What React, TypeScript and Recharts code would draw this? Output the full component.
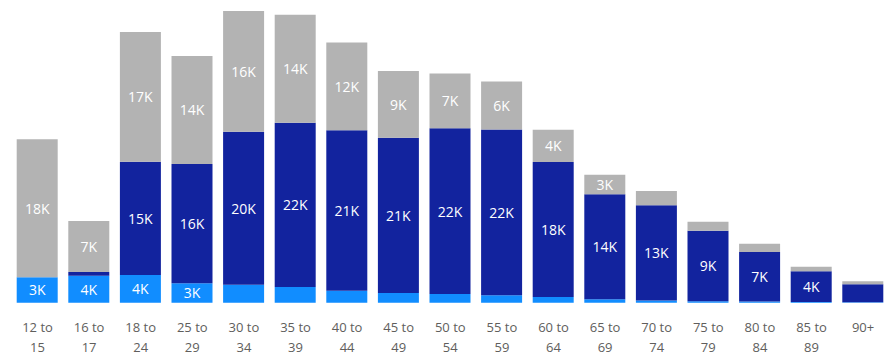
import { BarChart, Bar, XAxis, YAxis, LabelList } from "recharts"

// age groups and the three stacked series, in thousands
const ageGroups = [
  "12 to 15", "16 to 17", "18 to 24", "25 to 29", "30 to 34", "35 to 39",
  "40 to 44", "45 to 49", "50 to 54", "55 to 59", "60 to 64", "65 to 69",
  "70 to 74", "75 to 79", "80 to 84", "85 to 89", "90+",
]
const firstDose = [3.4, 3.6, 3.7, 2.6, 2.4, 2.1, 1.6, 1.3, 1.15, 1.0, 0.75, 0.45, 0.3, 0.2, 0.15, 0.1, 0.05]
const secondDose = [0, 0.5, 15.1, 15.9, 20.4, 21.9, 21.4, 20.7, 22.1, 22.1, 18.0, 14.0, 12.7, 9.4, 6.6, 4.1, 2.4]
const notVaccinated = [18.4, 6.8, 17.3, 14.4, 16.1, 14.4, 11.7, 8.9, 7.3, 6.4, 4.3, 2.6, 1.9, 1.2, 1.1, 0.6, 0.4]

const data = ageGroups.map((group, i) => ({
  group,
  first: firstDose[i],
  second: secondDose[i],
  none: notVaccinated[i],
}))

const FONT = "'Segoe UI', 'Open Sans', sans-serif"

function SegmentLabel(props: any) {
  const { x, y, width, height, value } = props
  if (height < 19 || !value) return null
  return (
    <text
      x={x + width / 2}
      y={y + height / 2}
      textAnchor="middle"
      dominantBaseline="central"
      fill="#ffffff"
      fontSize={14}
      fontFamily={FONT}
    >
      {Math.round(value)}K
    </text>
  )
}

function AgeTick(props: any) {
  const { x, y, payload } = props
  const parts = String(payload.value).split(" to ")
  const lines = parts.length > 1 ? [parts[0] + " to", parts[1]] : parts
  return (
    <text x={x} y={y} textAnchor="middle" fill="#605E5C" fontSize={13} fontFamily={FONT}>
      {lines.map((line, i) => (
        <tspan key={i} x={x} dy={i === 0 ? 21 : 20.5}>
          {line}
        </tspan>
      ))}
    </text>
  )
}

export default function App() {
  return (
    <div style={{ position: "fixed", left: 0, top: 0, width: 888, height: 360, overflow: "hidden", background: "#fff" }}>
      <BarChart
        width={890}
        height={360}
        data={data}
        margin={{ top: 2.7, right: 1.1, left: 11.7, bottom: 7.3 }}
      >
        <XAxis
          dataKey="group"
          axisLine={false}
          tickLine={false}
          interval={0}
          height={50}
          tick={<AgeTick />}
        />
        <YAxis hide domain={[0, 40]} />
        <Bar dataKey="first" stackId="a" fill="#118DFF" barSize={41} isAnimationActive={false}>
          <LabelList dataKey="first" content={<SegmentLabel />} />
        </Bar>
        <Bar dataKey="second" stackId="a" fill="#12239E" barSize={41} isAnimationActive={false}>
          <LabelList dataKey="second" content={<SegmentLabel />} />
        </Bar>
        <Bar dataKey="none" stackId="a" fill="#B3B3B3" barSize={41} isAnimationActive={false}>
          <LabelList dataKey="none" content={<SegmentLabel />} />
        </Bar>
      </BarChart>
    </div>
  )
}
